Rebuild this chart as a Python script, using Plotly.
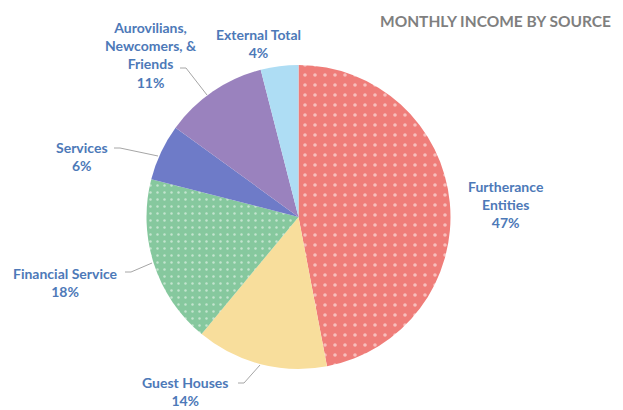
import plotly.graph_objects as go

categories = ["Furtherance Entities", "Guest Houses", "Financial Service", "Services",
              "Aurovilians, Newcomers, & Friends", "External Total"]
values = [47, 14, 18, 6, 11, 4]
label_texts = ["Furtherance<br>Entities<br>47%", "Guest Houses<br>14%", "Financial Service<br>18%",
               "Services<br>6%", "Aurovilians,<br>Newcomers, &<br>Friends<br>11%", "External Total<br>4%"]
colors = ["#EF7D79", "#F8DE9C", "#86C89E", "#6E7BC8", "#9A82BE", "#AEDDF4"]
patterns = [".", "", ".", "", "", ""]
pattern_sizes = [10, 8, 7, 8, 8, 8]

W, H = 623, 410
px = lambda x: x / W
py = lambda y: 1 - y / H

fig = go.Figure(go.Pie(
    labels=categories, values=values, sort=False, direction="clockwise", rotation=0,
    marker=dict(colors=colors, line=dict(color="white", width=0),
                pattern=dict(shape=patterns, fgcolor="white", bgcolor=colors, size=pattern_sizes,
                             solidity=0.1, fillmode="overlay")),
    textinfo="none", hoverinfo="label+percent", showlegend=False,
    domain=dict(x=[px(146), px(451)], y=[py(369), py(65)]),
))

label_pos = [(506, 204), (185, 391), (65, 282), (82, 156), (151, 55), (258, 44)]
ann = []
for t, (x, y) in zip(label_texts, label_pos):
    ann.append(dict(text="<b>" + t + "</b>", x=px(x), y=py(y), xref="paper", yref="paper",
                    showarrow=False, font=dict(family="Lato", size=14, color="#4D79B8"),
                    xanchor="center", yanchor="middle", align="center"))
ann.append(dict(text="<b>MONTHLY INCOME BY SOURCE</b>", x=px(495), y=py(21), xref="paper", yref="paper",
                showarrow=False, font=dict(family="Lato", size=15.5, color="#7F7F7F"),
                xanchor="center", yanchor="middle"))

leaders = [[(180, 68), (186, 68), (207, 95)],
           [(114, 148), (120, 148), (158, 156)],
           [(125, 272), (131, 272), (152, 263)],
           [(238, 383), (244, 383), (260, 365)]]
shapes = []
for pts in leaders:
    path = "M " + " L ".join(f"{px(x)},{py(y)}" for x, y in pts)
    shapes.append(dict(type="path", path=path, xref="paper", yref="paper",
                       line=dict(color="#A6A6A6", width=1)))

fig.update_layout(width=W, height=H, margin=dict(l=0, r=0, t=0, b=0),
                  paper_bgcolor="white", plot_bgcolor="white",
                  annotations=ann, shapes=shapes)
fig.write_html("out.html", config={"displayModeBar": False},
               post_script="document.body.style.margin='0';document.body.style.overflow='hidden';")
